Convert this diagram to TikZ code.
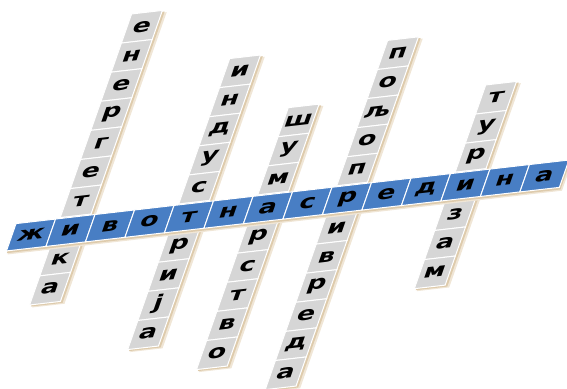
\documentclass[tikz,border=0pt]{standalone}
\usepackage{fontspec}
\newfontfamily\cellfont{DejaVu Sans}
\definecolor{stripblue}{RGB}{72,126,196}
\definecolor{cellgray}{RGB}{214,214,214}
\definecolor{shadowtan}{RGB}{222,203,172}
\definecolor{shadowsoft}{RGB}{240,230,214}
\tikzset{
  cellbase/.style={draw=white, line width=1pt, inner sep=0pt, transform shape,
    font=\cellfont\bfseries\fontsize{19}{19}\selectfont},
  hcell/.style={cellbase, fill=stripblue, minimum width=1cm, minimum height=0.94cm},
  vcell/.style={cellbase, fill=cellgray, minimum width=0.78cm, minimum height=1cm},
}

\begin{document}
\begin{tikzpicture}
\useasboundingbox (0,0) rectangle (567pt,-388pt);
\begin{scope}[cm={1.388,0.1596,0.3585,1.0228,(31pt,-235pt)}]
  % senke stubaca
  \foreach \i/\t/\b in {1/7/-2,4/5/-4,6/3/-5,8/5/-6,11/3/-3} {
    \fill[shadowsoft] (\i-0.3,\b-0.6) -- (\i+0.52,\b-0.6) -- (\i+0.52,\t+0.42) -- (\i-0.3,\t+0.42) -- cycle;
    \fill[shadowtan] (\i-0.34,\b-0.56) -- (\i+0.46,\b-0.56) -- (\i+0.46,\t+0.45) -- (\i-0.34,\t+0.45) -- cycle;
  }
  % stupci (odozgo nadole)
  \foreach \i/\t/\word in {1/7/{е,н,е,р,г,е,т,и,к,а},
                           4/5/{и,н,д,у,с,т,р,и,ј,а},
                           6/3/{ш,у,м,а,р,с,т,в,о},
                           8/5/{п,о,љ,о,п,р,и,в,р,е,д,а},
                           11/3/{т,у,р,и,з,а,м}}
    \foreach \l [count=\n from 0] in \word
      \node[vcell] (c\i-\n) at (\i,{\t-\n}) {\l};
  % senka vodoravne trake
  \fill[shadowsoft] (-0.44,-0.6) -- (13.6,-0.6) -- (13.6,0.38) -- (-0.44,0.38) -- cycle;
  \fill[shadowtan] (-0.47,-0.55) -- (13.55,-0.55) -- (13.55,0.42) -- (-0.47,0.42) -- cycle;
  % zivotna sredina
  \foreach \l [count=\i from 0] in {ж,и,в,о,т,н,а,с,р,е,д,и,н,а}
    \node[hcell] (h\i) at (\i,0) {\l};
\end{scope}
\end{tikzpicture}
\end{document}
